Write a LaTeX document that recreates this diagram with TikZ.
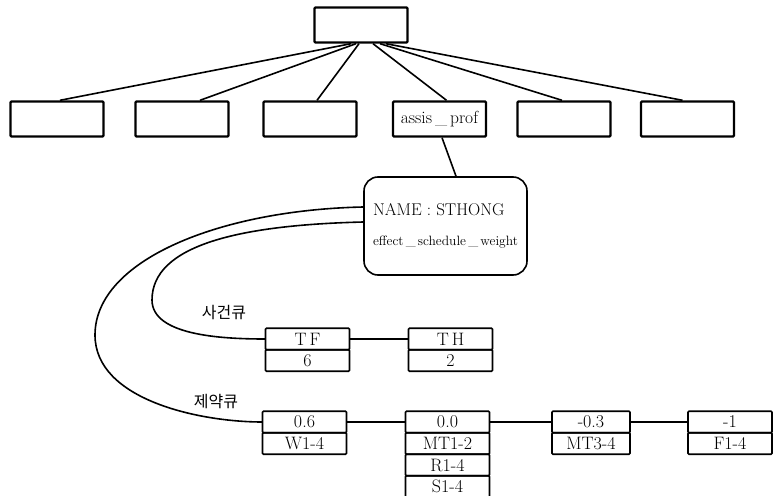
\documentclass[tikz,border=0pt]{standalone}
\usepackage{fontspec}
\newfontfamily\kr{Noto Sans CJK KR}
\usetikzlibrary{positioning}

\begin{document}
\begin{tikzpicture}[x=1pt,y=-1pt,line width=1.6pt,
    frame/.style={draw,line width=2.4pt,rounded corners=1pt,minimum width=93pt,minimum height=35pt,inner sep=0pt},
    cell/.style={draw,rounded corners=1pt,outer sep=0pt,inner sep=0pt,minimum width=84pt,minimum height=21.5pt,font=\fontsize{18}{18}\selectfont},
    tag/.style={font=\kr\fontsize{16}{16}\selectfont}]
  \useasboundingbox (0,0) rectangle (778,495);
  % class hierarchy
  \node[frame] (root) at (361,25) {};
  \node[frame] (b1) at (57,119) {};
  \node[frame] (b2) at (182,119) {};
  \node[frame] (b3) at (310,119) {};
  \node[frame,font=\fontsize{17.5}{17.5}\selectfont] (b4) at (439.5,119) {assis\,\_\,prof};
  \node[frame] (b5) at (564,119) {};
  \node[frame] (b6) at (687.5,119) {};
  \foreach \n/\s/\e in {b1/-10/3,b2/-5/18,b3/-2/7,b4/12/7,b5/19/-2,b6/25/-5}
    \draw ([xshift=\s pt]root.south) -- ([xshift=\e pt]\n.north);
  % instance
  \node[draw,rounded corners=14pt,minimum width=163pt,minimum height=98pt,align=left,
    font=\fontsize{17}{30}\selectfont] (nm) at (445.5,226)
    {NAME : STHONG\\{\fontsize{13.5}{30}\selectfont effect\,\_\,schedule\,\_\,weight}};
  \draw ([xshift=2.5pt]b4.south) -- ([xshift=10.5pt]nm.north);
  % queues
  \node[cell] (tf) at (307.5,339) {T\,F};
  \node[cell,below=0pt of tf] (tfv) {6};
  \node[cell] (th) at (450.5,339) {T\,H};
  \node[cell,below=0pt of th] (thv) {2};
  \node[cell] (c1) at (304.5,422) {0.6};
  \node[cell,below=0pt of c1] (c1a) {W1-4};
  \node[cell] (c2) at (447.5,422) {0.0};
  \node[cell,below=0pt of c2] (c2a) {MT1-2};
  \node[cell,below=0pt of c2a] (c2b) {R1-4};
  \node[cell,below=0pt of c2b] (c2c) {S1-4};
  \node[cell,minimum width=78pt] (c3) at (591,422) {-0.3};
  \node[cell,minimum width=78pt,below=0pt of c3] (c3a) {MT3-4};
  \node[cell] (c4) at (730,422) {-1};
  \node[cell,below=0pt of c4] (c4a) {F1-4};
  \draw (tf) -- (th);
  \foreach \a/\b in {c1/c2,c2/c3,c3/c4}
    \draw (\a) -- (\b);
  \node[tag] (lq1) at (224,313) {사건큐};
  \node[tag] (lq2) at (216,402) {제약큐};
  \draw ([yshift=19pt]nm.west) .. controls (220,210) and (95,260) .. (95,335)
    .. controls (95,400) and (200,422) .. (c1.west);
  \draw ([yshift=4pt]nm.west) .. controls (240,225) and (152,245) .. (152,300)
    .. controls (152,335) and (220,339) .. (tf.west);
\end{tikzpicture}
\end{document}
